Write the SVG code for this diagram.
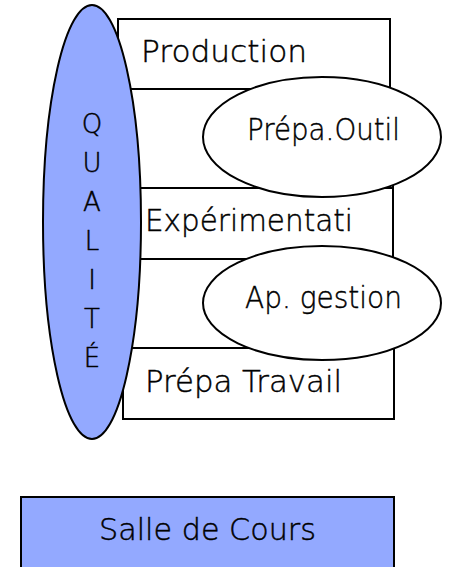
<svg xmlns="http://www.w3.org/2000/svg" width="451" height="567" viewBox="0 0 451 567">
  <style>
    .box { fill: #ffffff; stroke: #000000; stroke-width: 2; }
    .oval { fill: #ffffff; stroke: #000000; stroke-width: 2; }
    .blue { fill: #93a9ff; stroke: #000000; stroke-width: 2; }
    .lbl { font-family: "DejaVu Sans", "Liberation Sans", sans-serif; font-weight: 200; font-size: 31px; fill: #000000; stroke: #000000; stroke-width: 0.45; }
    .vert { font-family: "DejaVu Sans", "Liberation Sans", sans-serif; font-weight: 200; font-size: 26px; fill: #000000; stroke: #000000; stroke-width: 0.45; text-anchor: middle; }
  </style>

  <g id="connectors"/>

  <!-- stacked workshop rows -->
  <g id="production">
    <rect class="box" x="118" y="19" width="272" height="70"/>
    <text class="lbl" x="141" y="62" textLength="166" lengthAdjust="spacingAndGlyphs">Production</text>
  </g>
  <g id="row-outil">
    <rect class="box" x="100" y="89" width="293" height="99"/>
  </g>
  <g id="experimentation">
    <rect class="box" x="100" y="188" width="293" height="71"/>
    <text class="lbl" x="145" y="231" textLength="208" lengthAdjust="spacingAndGlyphs">Expérimentati</text>
  </g>
  <g id="row-gestion">
    <rect class="box" x="100" y="259" width="293" height="89"/>
  </g>
  <g id="prepa-travail">
    <rect class="box" x="123" y="348" width="271" height="71"/>
    <text class="lbl" x="145" y="392" textLength="197" lengthAdjust="spacingAndGlyphs">Prépa Travail</text>
  </g>

  <!-- service ovals -->
  <g id="prepa-outil">
    <ellipse class="oval" cx="322" cy="137" rx="119" ry="60"/>
    <text class="lbl" x="247" y="140" textLength="153" lengthAdjust="spacingAndGlyphs">Prépa.Outil</text>
  </g>
  <g id="ap-gestion">
    <ellipse class="oval" cx="322" cy="303" rx="119" ry="57"/>
    <text class="lbl" x="245" y="308" textLength="157" lengthAdjust="spacingAndGlyphs">Ap. gestion</text>
  </g>

  <!-- quality spans all rows -->
  <g id="qualite">
    <ellipse class="blue" cx="92" cy="222" rx="49" ry="217"/>
    <text class="vert" x="92" y="133">Q</text>
    <text class="vert" x="92" y="172">U</text>
    <text class="vert" x="92" y="211">A</text>
    <text class="vert" x="92" y="250">L</text>
    <text class="vert" x="92" y="289">I</text>
    <text class="vert" x="92" y="328">T</text>
    <text class="vert" x="92" y="367">É</text>
  </g>

  <g id="salle-de-cours">
    <rect class="blue" x="21" y="497" width="373" height="80"/>
    <text class="lbl" x="99" y="540" textLength="217" lengthAdjust="spacingAndGlyphs">Salle de Cours</text>
  </g>
</svg>
